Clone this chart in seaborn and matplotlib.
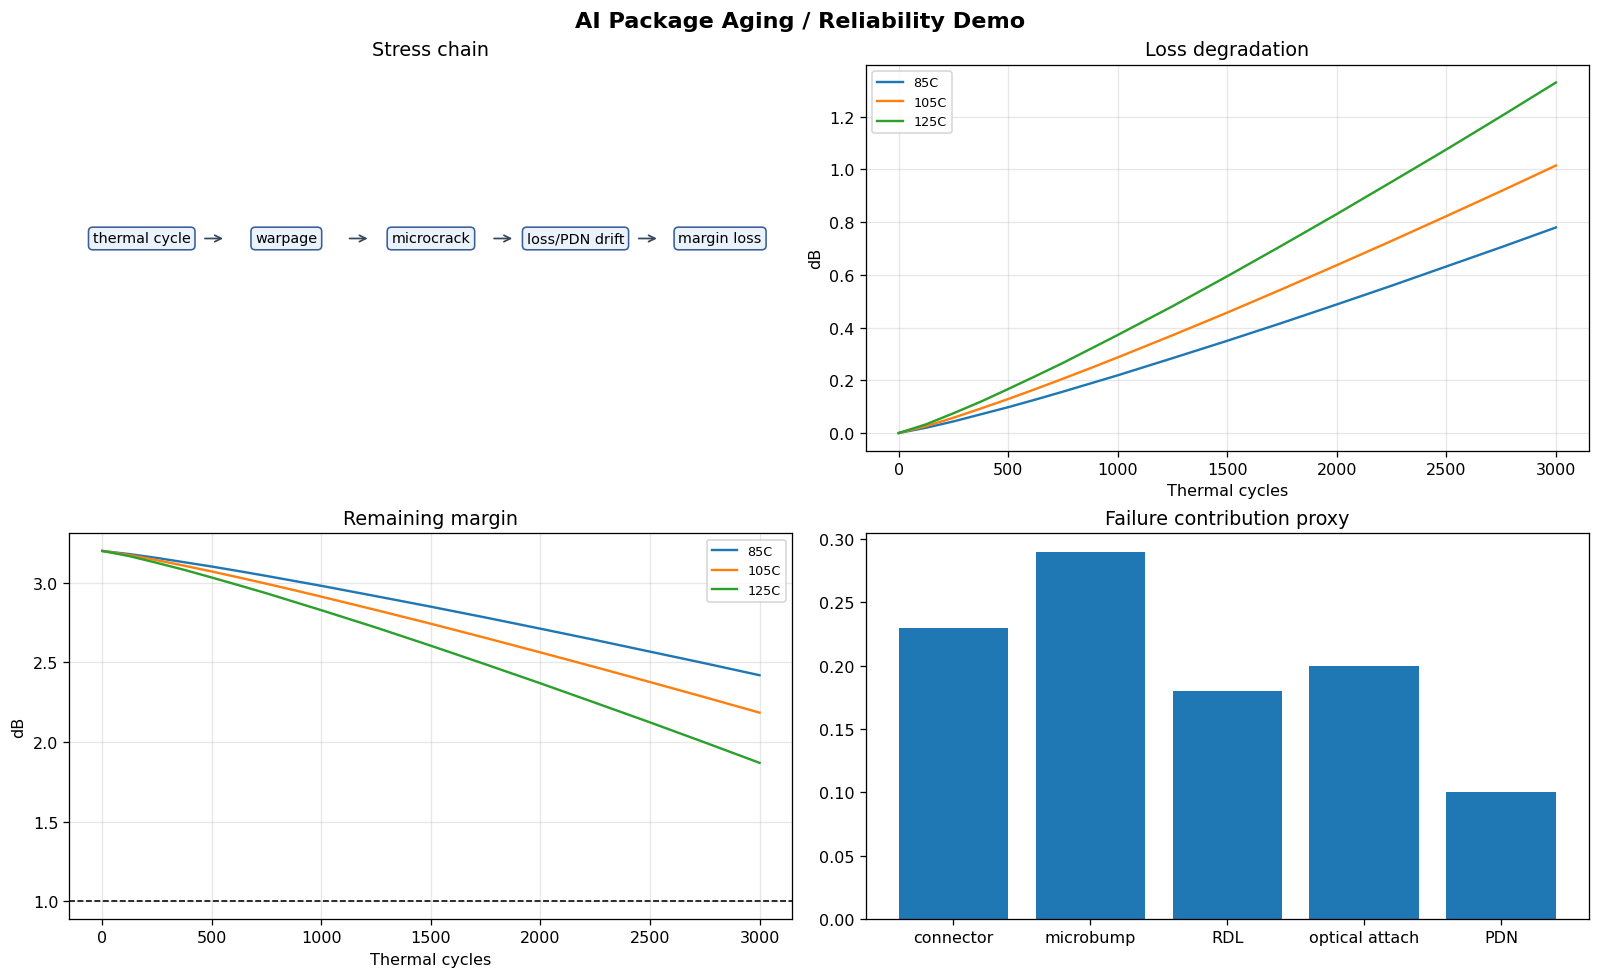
import numpy as np
import pandas as pd
import matplotlib
matplotlib.use("Agg")
import matplotlib.pyplot as plt
import seaborn as sns

cycles = [0, 125, 250, 375, 500, 625, 750, 875, 1000, 1250, 1500, 1750, 2000, 2250, 2500, 2750, 3000]
temps = ["85C", "105C", "125C"]

loss_85 = [0.0, 0.020, 0.044, 0.071, 0.098, 0.127, 0.157, 0.188, 0.219,
           0.284, 0.350, 0.418, 0.488, 0.559, 0.632, 0.705, 0.780]
loss_105 = [0.0, 0.026, 0.058, 0.093, 0.129, 0.167, 0.206, 0.246, 0.287,
            0.371, 0.457, 0.546, 0.637, 0.729, 0.823, 0.918, 1.015]
loss_125 = [0.0, 0.033, 0.075, 0.119, 0.167, 0.216, 0.266, 0.319, 0.372,
            0.481, 0.595, 0.712, 0.831, 0.953, 1.076, 1.202, 1.330]

margin_85 = [3.200, 3.180, 3.156, 3.129, 3.102, 3.073, 3.043, 3.012, 2.981,
             2.916, 2.850, 2.782, 2.712, 2.641, 2.568, 2.495, 2.420]
margin_105 = [3.200, 3.174, 3.142, 3.107, 3.071, 3.033, 2.994, 2.954, 2.913,
              2.829, 2.743, 2.654, 2.563, 2.471, 2.377, 2.282, 2.185]
margin_125 = [3.200, 3.167, 3.125, 3.081, 3.033, 2.984, 2.934, 2.881, 2.828,
              2.719, 2.605, 2.488, 2.369, 2.247, 2.124, 1.998, 1.870]
margin_floor = 1.0

chain_steps = ["thermal cycle", "warpage", "microcrack", "loss/PDN drift", "margin loss"]

parts = ["connector", "microbump", "RDL", "optical attach", "PDN"]
contrib = [0.23, 0.29, 0.18, 0.20, 0.10]

colors = ["#1f77b4", "#ff7f0e", "#2ca02c"]


def long_df(series):
    rows = []
    for t, vals in zip(temps, series):
        for c, v in zip(cycles, vals):
            rows.append({"cycles": c, "value": v, "temp": t})
    return pd.DataFrame(rows)


loss_df = long_df([loss_85, loss_105, loss_125])
margin_df = long_df([margin_85, margin_105, margin_125])

dpi = 115
fig = plt.figure(figsize=(1600 / dpi, 979 / dpi), dpi=dpi)
gs = fig.add_gridspec(2, 2, left=0.0434, right=0.993, top=0.9326, bottom=0.0603,
                      hspace=0.215, wspace=0.1016)
ax_chain = fig.add_subplot(gs[0, 0])
ax_loss = fig.add_subplot(gs[0, 1])
ax_margin = fig.add_subplot(gs[1, 0])
ax_bar = fig.add_subplot(gs[1, 1])

fig.suptitle("AI Package Aging / Reliability Demo", fontsize=14, fontweight="bold", y=0.988)

# stress chain
ax_chain.set_xlim(0, 1)
ax_chain.set_ylim(0, 1)
ax_chain.axis("off")
ax_chain.set_title("Stress chain", fontsize=12)
for i, step in enumerate(chain_steps):
    x = 0.1 + 0.2 * i
    ax_chain.text(x, 0.55, step, ha="center", va="center", fontsize=9,
                  bbox=dict(boxstyle="round,pad=0.3", facecolor="#eaf2fb",
                            edgecolor="#3a5f95", linewidth=1))
    if i < len(chain_steps) - 1:
        ax_chain.annotate("", xy=(x + 0.117, 0.55), xytext=(x + 0.083, 0.55),
                          arrowprops=dict(arrowstyle="->", color="#34495e", lw=1.1))

# loss degradation
sns.lineplot(data=loss_df, x="cycles", y="value", hue="temp", palette=colors,
             ax=ax_loss, linewidth=1.5)
ax_loss.set_title("Loss degradation", fontsize=12)
ax_loss.set_xlabel("Thermal cycles")
ax_loss.set_ylabel("dB")
ax_loss.grid(True, alpha=0.3)
ax_loss.legend(loc="upper left", fontsize=8)

# remaining margin
sns.lineplot(data=margin_df, x="cycles", y="value", hue="temp", palette=colors,
             ax=ax_margin, linewidth=1.5)
ax_margin.axhline(margin_floor, color="black", linestyle="--", linewidth=1)
ax_margin.set_title("Remaining margin", fontsize=12)
ax_margin.set_xlabel("Thermal cycles")
ax_margin.set_ylabel("dB")
ax_margin.grid(True, alpha=0.3)
ax_margin.legend(loc="upper right", fontsize=8)

# failure contribution
sns.barplot(x=parts, y=contrib, color="#1f77b4", saturation=1, width=0.8, ax=ax_bar)
ax_bar.set_xlim(-0.64, 4.64)
ax_bar.set_title("Failure contribution proxy", fontsize=12)

fig.savefig("out.png", dpi=dpi)
